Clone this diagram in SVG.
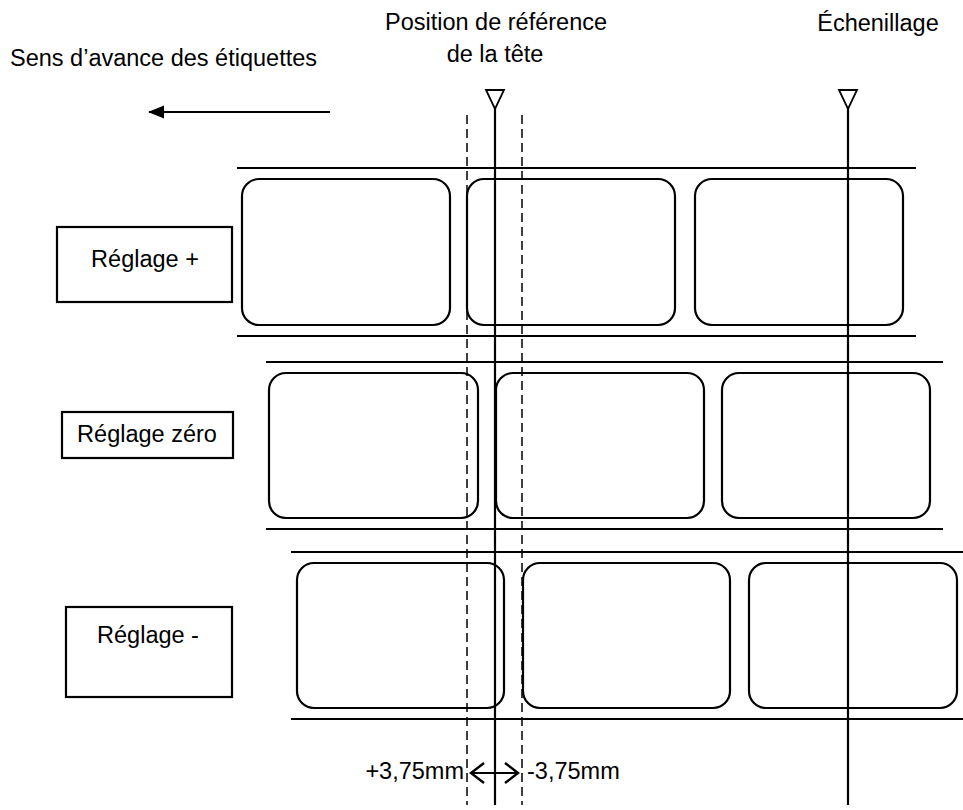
<svg xmlns="http://www.w3.org/2000/svg" width="963" height="810" viewBox="0 0 963 810">
<style>
text{font-family:"Liberation Sans",Arial,sans-serif;font-size:23.5px;fill:#000}
.lbl{fill:none;stroke:#000;stroke-width:2.2}
.strip{stroke:#000;stroke-width:2.2}
.box{fill:#fff;stroke:#000;stroke-width:2.2}
.dash{stroke:#000;stroke-width:1.5;stroke-dasharray:9,5}
.ref{stroke:#000;stroke-width:2.2}
.tri{fill:#fff;stroke:#000;stroke-width:1.8}
</style>
<defs>
<marker id="fill" markerWidth="16" markerHeight="14" refX="15" refY="7" orient="auto" markerUnits="userSpaceOnUse">
<path d="M0,0.5 L16,7 L0,13.5 Z" fill="#000"/>
</marker>
<marker id="open" markerWidth="16" markerHeight="24" refX="14" refY="12" orient="auto-start-reverse" markerUnits="userSpaceOnUse">
<path d="M1,2 L14,12 L1,22" fill="none" stroke="#000" stroke-width="2.4"/>
</marker>
</defs>
<rect width="963" height="810" fill="#fff"/>

<g id="title-sens"><text x="10" y="66">Sens d’avance des étiquettes</text></g>
<g id="title-position"><text x="496" y="30" text-anchor="middle">Position de référence</text><text x="495" y="62" text-anchor="middle">de la tête</text></g>
<g id="title-echenillage"><text x="878" y="31" text-anchor="middle">Échenillage</text></g>

<g id="row-plus">
<line class="strip" x1="237" y1="168" x2="916" y2="168"/>
<line class="strip" x1="237" y1="336" x2="916" y2="336"/>
<rect class="lbl" x="242" y="179" width="208" height="146" rx="17"/>
<rect class="lbl" x="467" y="179" width="208" height="146" rx="17"/>
<rect class="lbl" x="695" y="179" width="208" height="146" rx="17"/>
</g>
<g id="row-zero">
<line class="strip" x1="266" y1="362" x2="943" y2="362"/>
<line class="strip" x1="266" y1="529" x2="943" y2="529"/>
<rect class="lbl" x="269" y="373" width="209" height="145" rx="17"/>
<rect class="lbl" x="496" y="373" width="208" height="145" rx="17"/>
<rect class="lbl" x="722" y="373" width="208" height="145" rx="17"/>
</g>
<g id="row-minus">
<line class="strip" x1="291" y1="552" x2="963" y2="552"/>
<line class="strip" x1="291" y1="719" x2="963" y2="719"/>
<rect class="lbl" x="297" y="563" width="207" height="145" rx="17"/>
<rect class="lbl" x="523" y="563" width="207" height="145" rx="17"/>
<rect class="lbl" x="749" y="563" width="208" height="145" rx="17"/>
</g>

<g id="box-plus"><rect class="box" x="57" y="227" width="175" height="75"/><text x="145" y="267" text-anchor="middle">Réglage +</text></g>
<g id="box-zero"><rect class="box" x="62" y="412" width="171" height="46"/><text x="147" y="442" text-anchor="middle">Réglage zéro</text></g>
<g id="box-minus"><rect class="box" x="66" y="607" width="166" height="90"/><text x="148" y="643" text-anchor="middle">Réglage -</text></g>

<g id="connectors">
<line class="ref" x1="330" y1="112" x2="149" y2="112" marker-end="url(#fill)"/>
<line class="dash" x1="467" y1="115" x2="467" y2="805"/>
<line class="dash" x1="522" y1="115" x2="522" y2="805"/>
<line class="ref" x1="495" y1="108" x2="495" y2="805"/>
<line class="ref" x1="848" y1="108" x2="848" y2="805"/>
<polygon class="tri" points="486,90 504,90 495,109"/>
<polygon class="tri" points="839,90 857,90 848,109"/>
<line class="ref" x1="471" y1="773" x2="518" y2="773" marker-start="url(#open)" marker-end="url(#open)"/>
</g>
<g id="dim-labels"><text x="464" y="779" text-anchor="end">+3,75mm</text><text x="527" y="779">-3,75mm</text></g>
</svg>
